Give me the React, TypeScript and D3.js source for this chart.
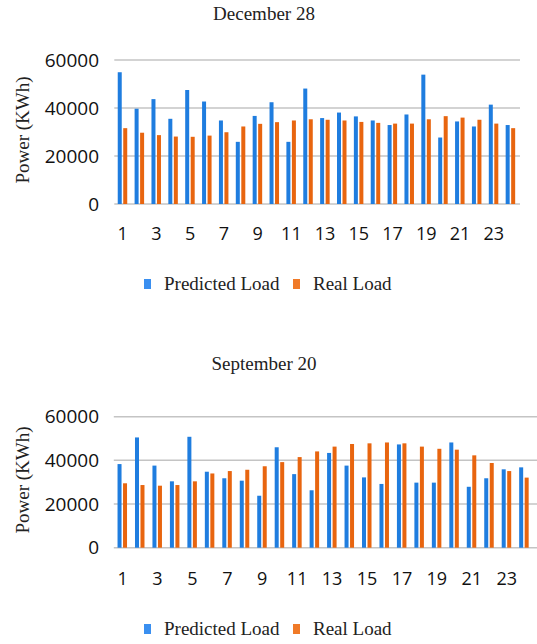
import React, { useRef, useEffect } from 'react';
import * as d3 from 'd3';

// hours of the day
const hours = [1, 2, 3, 4, 5, 6, 7, 8, 9, 10, 11, 12, 13, 14, 15, 16, 17, 18, 19, 20, 21, 22, 23, 24];
const hourTicks = [1, 3, 5, 7, 9, 11, 13, 15, 17, 19, 21, 23];
const yTicks = [0, 20000, 40000, 60000];

const decPredicted = [54900, 39700, 43700, 35500, 47500, 42700, 34800, 25900, 36700, 42400, 25900, 48100,
  35800, 38100, 36500, 34800, 32900, 37300, 53900, 27700, 34400, 32300, 41400, 32900];
const decReal = [31600, 29700, 28700, 28100, 28000, 28500, 29900, 32300, 33400, 34100, 34800, 35300,
  35100, 34800, 34200, 33800, 33500, 33500, 35300, 36600, 36000, 35100, 33500, 31600];

const sepPredicted = [38300, 50500, 37600, 30400, 50800, 34800, 31800, 30700, 23800, 46000, 33700, 26300,
  43400, 37600, 32200, 29200, 47300, 29800, 29800, 48200, 27900, 31800, 35900, 36800];
const sepReal = [29500, 28700, 28400, 28700, 30400, 34000, 35100, 35700, 37300, 39200, 41500, 44100,
  46300, 47500, 47800, 48200, 47800, 46300, 45300, 44900, 42300, 38800, 35100, 32100];

const BLUE = '#1f7ddf';
const ORANGE = '#e8650f';

interface PanelSpec {
  title: string;
  predicted: number[];
  real: number[];
  titleY: number;
  yTop: number;
  yBottom: number;
  xLeft: number;
  xRight: number;
  gridRight: number;
  titleAxisY: number;
  tickY: number;
  legendY: number;
}

const drawPanel = (svg: d3.Selection<SVGSVGElement, unknown, null, undefined>, p: PanelSpec) => {
  const g = svg.append('g');

  const x = d3.scaleBand<number>()
    .domain(hours)
    .range([p.xLeft, p.xRight])
    .padding(0);

  const y = d3.scaleLinear()
    .domain([0, 60000])
    .range([p.yBottom, p.yTop]);

  // title
  g.append('text')
    .attr('x', 264)
    .attr('y', p.titleY)
    .attr('text-anchor', 'middle')
    .attr('font-family', '"Liberation Serif", "Times New Roman", serif')
    .attr('font-size', '19px')
    .attr('fill', '#222')
    .text(p.title);

  // gridlines
  g.selectAll('.grid')
    .data(yTicks)
    .enter()
    .append('line')
    .attr('x1', p.xLeft)
    .attr('x2', p.gridRight)
    .attr('y1', d => y(d))
    .attr('y2', d => y(d))
    .attr('stroke', '#c4c4c4')
    .attr('stroke-width', 1.5);

  // y tick labels
  g.selectAll('.ylab')
    .data(yTicks)
    .enter()
    .append('text')
    .attr('x', 99)
    .attr('y', d => y(d))
    .attr('dy', '0.35em')
    .attr('text-anchor', 'end')
    .attr('font-family', '"Open Sans", sans-serif')
    .attr('font-size', '19px')
    .attr('fill', '#111')
    .text(d => String(d));

  // axis title
  g.append('text')
    .attr('transform', `translate(29,${p.titleAxisY}) rotate(-90)`)
    .attr('text-anchor', 'middle')
    .attr('font-family', '"Liberation Serif", "Times New Roman", serif')
    .attr('font-size', '19px')
    .attr('fill', '#222')
    .text('Power (KWh)');

  // bars
  const bw = 4;
  g.selectAll('.pred')
    .data(p.predicted)
    .enter()
    .append('rect')
    .attr('x', (d, i) => x(hours[i])! + x.bandwidth() / 2 - bw - 1)
    .attr('y', d => y(d))
    .attr('width', bw)
    .attr('height', d => p.yBottom - y(d))
    .attr('fill', BLUE);

  g.selectAll('.real')
    .data(p.real)
    .enter()
    .append('rect')
    .attr('x', (d, i) => x(hours[i])! + x.bandwidth() / 2 + 0.5)
    .attr('y', d => y(d))
    .attr('width', bw)
    .attr('height', d => p.yBottom - y(d))
    .attr('fill', ORANGE);

  // x tick labels
  g.selectAll('.xlab')
    .data(hourTicks)
    .enter()
    .append('text')
    .attr('x', d => x(d)! + x.bandwidth() / 2)
    .attr('y', p.tickY)
    .attr('text-anchor', 'middle')
    .attr('font-family', '"Open Sans", sans-serif')
    .attr('font-size', '18px')
    .attr('fill', '#111')
    .text(d => String(d));

  // legend
  const legend = g.append('g').attr('transform', `translate(0,${p.legendY})`);
  legend.append('rect').attr('x', 144).attr('y', -11).attr('width', 7).attr('height', 10).attr('fill', '#3a8ff0');
  legend.append('text')
    .attr('x', 164).attr('y', 0)
    .attr('font-family', '"Liberation Serif", "Times New Roman", serif')
    .attr('font-size', '19px').attr('fill', '#222')
    .text('Predicted Load');
  legend.append('rect').attr('x', 293).attr('y', -11).attr('width', 7).attr('height', 10).attr('fill', '#f07a28');
  legend.append('text')
    .attr('x', 313).attr('y', 0)
    .attr('font-family', '"Liberation Serif", "Times New Roman", serif')
    .attr('font-size', '19px').attr('fill', '#222')
    .text('Real Load');
};

const App: React.FC = () => {
  const svgRef = useRef<SVGSVGElement | null>(null);

  useEffect(() => {
    const svg = d3.select(svgRef.current as SVGSVGElement);
    svg.selectAll('*').remove();

    drawPanel(svg, {
      title: 'December 28', predicted: decPredicted, real: decReal,
      titleY: 20, yTop: 60, yBottom: 204, xLeft: 114.3, xRight: 519.1, gridRight: 520,
      titleAxisY: 130, tickY: 240, legendY: 290,
    });

    drawPanel(svg, {
      title: 'September 20', predicted: sepPredicted, real: sepReal,
      titleY: 370, yTop: 416.7, yBottom: 547.7, xLeft: 113.8, xRight: 532.9, gridRight: 537,
      titleAxisY: 480, tickY: 585, legendY: 635,
    });
  }, []);

  return (
    <svg ref={svgRef} width={537} height={644}
      style={{ position: 'absolute', left: 0, top: 0, background: '#fff' }} />
  );
};

export default App;
